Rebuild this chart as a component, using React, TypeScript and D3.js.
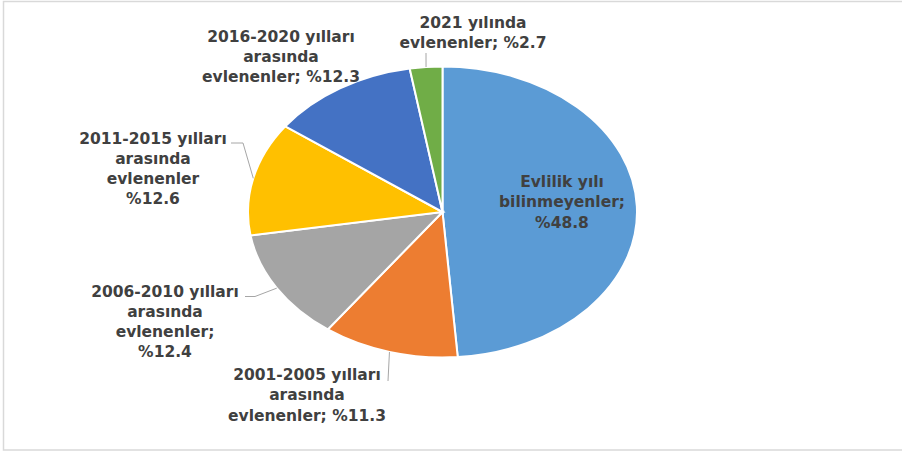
import React, { useEffect, useRef } from 'react'
import * as d3 from 'd3'

// dilim verileri (saat 12'den saat yönünde)
const categories = [
  'Evlilik yılı bilinmeyenler',
  '2001-2005 yılları arasında evlenenler',
  '2006-2010 yılları arasında evlenenler',
  '2011-2015 yılları arasında evlenenler',
  '2016-2020 yılları arasında evlenenler',
  '2021 yılında evlenenler',
]
const values = [48.8, 11.3, 12.4, 12.6, 12.3, 2.7]
const valueLabels = ['%48.8', '%11.3', '%12.4', '%12.6', '%12.3', '%2.7']
const colors = ['#5B9BD5', '#ED7D31', '#A5A5A5', '#FFC000', '#4472C4', '#70AD47']

// etiket satırları, Excel'deki gibi elle kırılmış
const labelLines = [
  ['Evlilik yılı', 'bilinmeyenler;', '%48.8'],
  ['2001-2005 yılları', 'arasında', 'evlenenler; %11.3'],
  ['2006-2010 yılları', 'arasında', 'evlenenler;', '%12.4'],
  ['2011-2015 yılları', 'arasında', 'evlenenler', '%12.6'],
  ['2016-2020 yılları', 'arasında', 'evlenenler; %12.3'],
  ['2021 yılında', 'evlenenler; %2.7'],
]

// etiket yerleşimi: x = orta, y = ilk satırın taban çizgisi, elbow = çizgi kırılma noktaları
const labelLayout = [
  { x: 562, y: 187, elbow: null },
  { x: 307, y: 380, elbow: [[388, 381]] },
  { x: 165, y: 296.5, elbow: [[245, 296.5], [255, 296.5]] },
  { x: 153, y: 143.5, elbow: [[231, 143], [243, 143]] },
  { x: 281, y: 41.5, elbow: null },
  { x: 473, y: 27.5, elbow: [[426, 53]] },
]

const W = 902
const H = 452

function PieChart() {
  const ref = useRef<SVGSVGElement>(null)

  useEffect(() => {
    const svg = d3.select(ref.current)
    svg.selectAll('*').remove()

    const cx = 442.5
    const cy = 212
    const rx = 194.5
    const ry = 145.5

    // grafik çerçevesi
    svg
      .append('rect')
      .attr('x', 3.5)
      .attr('y', 1.5)
      .attr('width', 902)
      .attr('height', 448.5)
      .attr('fill', 'white')
      .attr('stroke', '#d9d9d9')
      .attr('stroke-width', 1.5)

    const data = values.map((v, i) => ({ name: categories[i], value: v, i }))
    const pie = d3
      .pie<{ name: string; value: number; i: number }>()
      .value(d => d.value)
      .sort(null)
    const arcs = pie(data)
    const arc = d3.arc<any>().innerRadius(0).outerRadius(ry)

    // resim yatayda gerilmiş, o yüzden elips
    const g = svg.append('g').attr('transform', `translate(${cx},${cy}) scale(${rx / ry},1)`)
    g.selectAll('path')
      .data(arcs)
      .join('path')
      .attr('d', arc)
      .attr('fill', d => colors[d.data.i])
      .attr('stroke', 'white')
      .attr('stroke-width', 2)
      .attr('vector-effect', 'non-scaling-stroke')

    // kenar orta noktası
    const edgePoint = (d: d3.PieArcDatum<any>) => {
      const a = (d.startAngle + d.endAngle) / 2
      return [cx + rx * Math.sin(a), cy - ry * Math.cos(a)]
    }

    // çizgiler
    arcs.forEach((d, i) => {
      const lay = labelLayout[i]
      if (!lay.elbow) return
      const pts = [...lay.elbow, edgePoint(d)]
      svg
        .append('path')
        .attr('d', d3.line()(pts as [number, number][]))
        .attr('fill', 'none')
        .attr('stroke', '#a6a6a6')
        .attr('stroke-width', 1)
    })

    // etiketler
    labelLines.forEach((lines, i) => {
      const lay = labelLayout[i]
      const t = svg
        .append('text')
        .attr('text-anchor', 'middle')
        .attr('font-family', 'DejaVu Sans, sans-serif')
        .attr('font-weight', 'bold')
        .attr('font-size', 15.5)
        .attr('fill', '#404040')
      lines.forEach((line, k) => {
        t.append('tspan')
          .attr('x', lay.x)
          .attr('y', lay.y + k * 20.3)
          .text(line)
      })
    })
  }, [])

  return (
    <svg
      ref={ref}
      width={W}
      height={H}
      style={{ position: 'absolute', left: 0, top: 0, display: 'block' }}
    />
  )
}

export default function App() {
  return <PieChart />
}
